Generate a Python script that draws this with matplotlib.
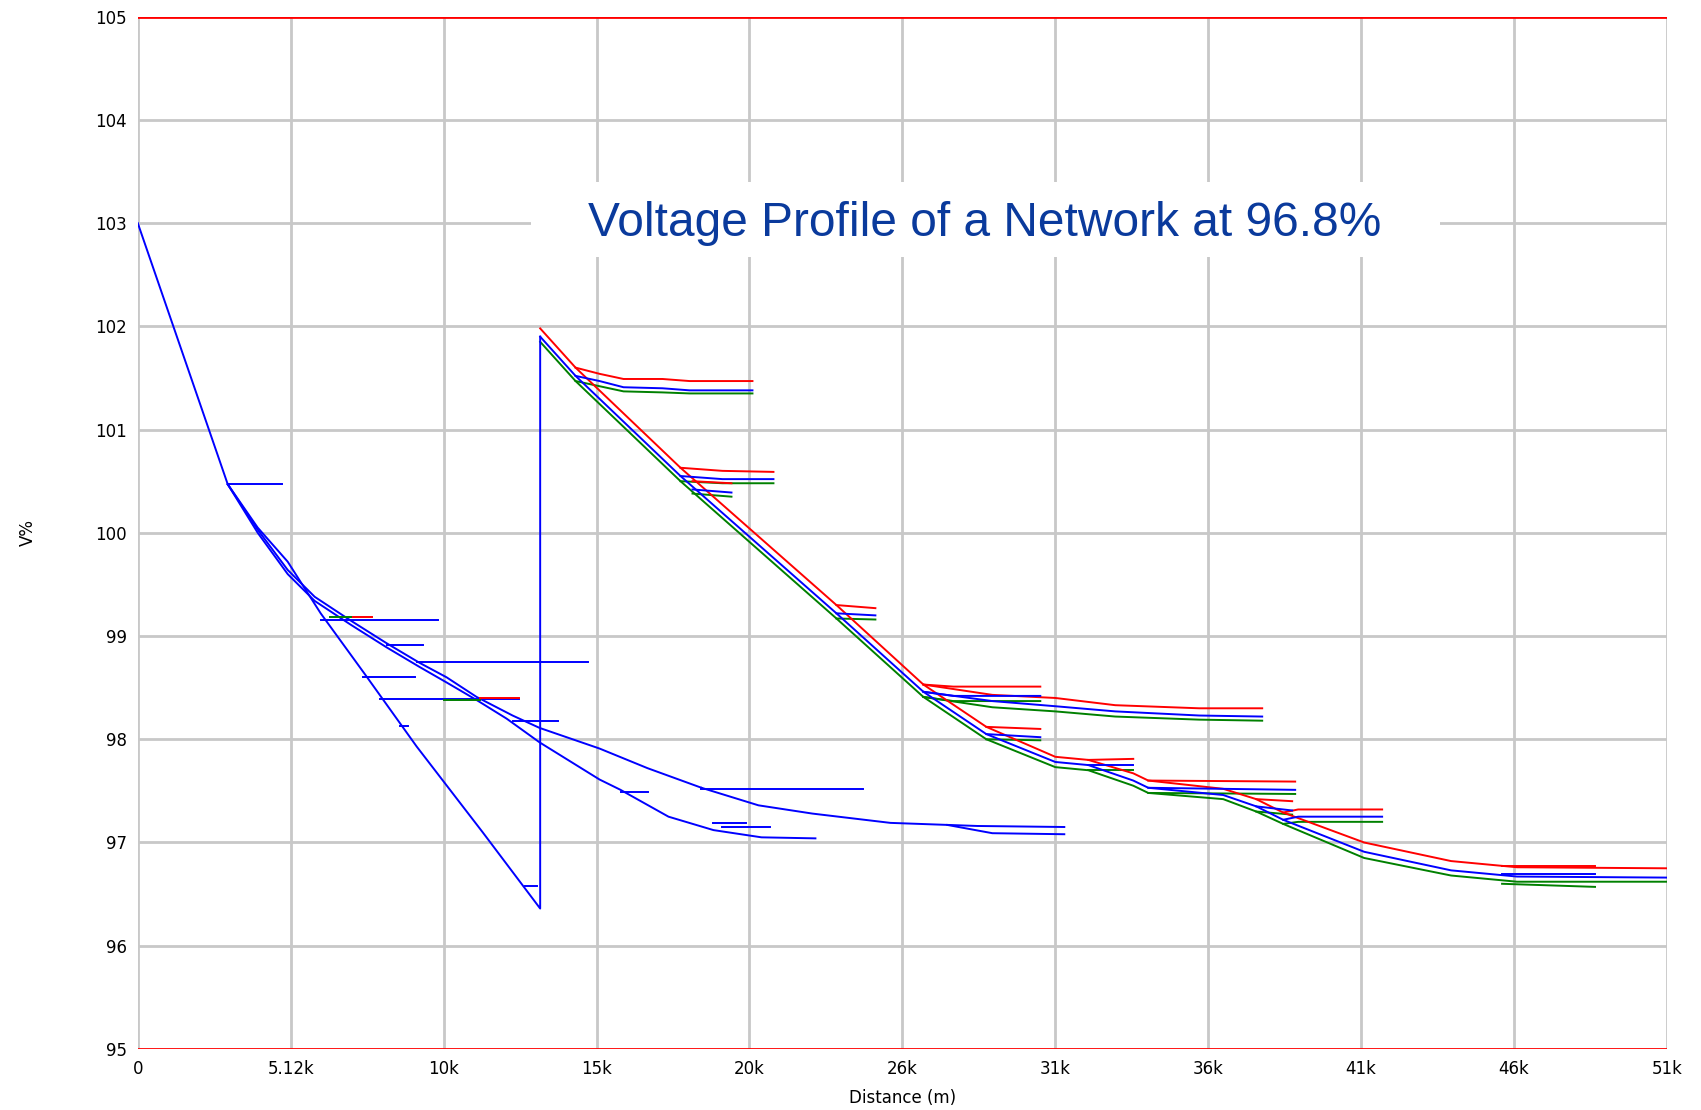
import numpy as np
import matplotlib.pyplot as plt
from matplotlib.patches import Rectangle

# ======================================
# DATOS (distancia en m, tension en %)
# ======================================

x_ticks = [0, 5100, 10200, 15300, 20400, 25500, 30600, 35700, 40800, 45900, 51000]
x_labels = ['0', '5.12k', '10k', '15k', '20k', '26k', '31k', '36k', '41k', '46k', '51k']
y_ticks = [95, 96, 97, 98, 99, 100, 101, 102, 103, 104, 105]

# --- grupo izquierdo (antes del regulador), todo en azul ---
main_x = [0, 3000]
main_v = [103.0, 100.47]

steep_x = [3000, 4000, 5000, 6100, 7600, 9300, 11500, 13420, 13420]
steep_v = [100.47, 100.05, 99.72, 99.22, 98.62, 97.93, 97.10, 96.36, 101.90]

upper_x = [3000, 4000, 5000, 5900, 7100, 8300, 9400, 10300, 11300, 12500, 13400, 15400, 17000, 18800]
upper_v = [100.47, 100.03, 99.64, 99.38, 99.15, 98.93, 98.74, 98.60, 98.41, 98.23, 98.11, 97.91, 97.72, 97.53]

lower_x = [3000, 4000, 5000, 5900, 7100, 8300, 9400, 10300, 11300, 12300, 13400, 15400, 16100, 17700, 19200, 20800, 22600]
lower_v = [100.47, 100.0, 99.60, 99.34, 99.11, 98.89, 98.70, 98.55, 98.38, 98.20, 97.97, 97.61, 97.51, 97.25, 97.12, 97.05, 97.04]

long_x = [18800, 20700, 22500, 25100, 28000, 30900]
long_v = [97.53, 97.36, 97.28, 97.19, 97.16, 97.15]
long2_x = [27000, 28500, 30900]
long2_v = [97.17, 97.09, 97.08]

# ramales horizontales cortos (x inicio, x fin, V)
stub_x0 = [3000, 18800, 6100, 8300, 9300, 7500, 8070, 12500, 8750, 16100, 19200, 19500, 12900]
stub_x1 = [4800, 24200, 10000, 9500, 15000, 9260, 12700, 14000, 9000, 17000, 20300, 21100, 13300]
stub_v = [100.47, 97.52, 99.16, 98.91, 98.75, 98.60, 98.39, 98.18, 98.13, 97.49, 97.19, 97.15, 96.58]

# trozos rojos / verdes visibles en el grupo izquierdo
left_red_x0 = [7100, 11400]
left_red_x1 = [7800, 12700]
left_red_v = [99.18, 98.40]
left_green_x0 = [6400, 10200]
left_green_x1 = [7100, 11400]
left_green_v = [99.18, 98.38]

# --- grupo derecho (despues del regulador), tres fases ---
trunk_x = [13420, 14600, 18100, 23300, 26200, 28300, 30600, 31700, 33200, 33700, 36200, 37300, 38200, 40900, 43800, 46000, 51000]
trunk_r = [101.98, 101.60, 100.63, 99.30, 98.53, 98.12, 97.83, 97.80, 97.67, 97.60, 97.52, 97.42, 97.29, 97.00, 96.82, 96.76, 96.75]
trunk_b = [101.90, 101.52, 100.55, 99.22, 98.46, 98.05, 97.78, 97.75, 97.60, 97.53, 97.46, 97.35, 97.22, 96.91, 96.73, 96.67, 96.66]
trunk_g = [101.85, 101.47, 100.50, 99.17, 98.41, 98.00, 97.73, 97.70, 97.55, 97.48, 97.42, 97.30, 97.18, 96.85, 96.68, 96.62, 96.62]

br1_x = [14600, 15400, 16200, 17500, 18400, 20500]
br1_r = [101.60, 101.54, 101.49, 101.49, 101.47, 101.47]
br1_b = [101.52, 101.47, 101.41, 101.40, 101.38, 101.38]
br1_g = [101.47, 101.42, 101.37, 101.36, 101.35, 101.35]

br2_x = [18100, 19500, 21200]
br2_r = [100.63, 100.60, 100.59]
br2_b = [100.55, 100.52, 100.52]
br2_g = [100.50, 100.48, 100.48]

br3_x = [18500, 19800]
br3_r = [100.50, 100.48]
br3_b = [100.42, 100.39]
br3_g = [100.38, 100.35]

br4_x = [23300, 24600]
br4_r = [99.30, 99.27]
br4_b = [99.22, 99.20]
br4_g = [99.17, 99.16]

br5_x = [26200, 27200, 30100]
br5_r = [98.53, 98.51, 98.51]
br5_b = [98.46, 98.42, 98.42]
br5_g = [98.41, 98.37, 98.37]

br6_x = [26200, 28500, 30600, 32600, 35400, 37500]
br6_r = [98.53, 98.43, 98.40, 98.33, 98.30, 98.30]
br6_b = [98.46, 98.37, 98.32, 98.27, 98.23, 98.22]
br6_g = [98.41, 98.31, 98.27, 98.22, 98.19, 98.18]

br7_x = [28300, 30100]
br7_r = [98.12, 98.10]
br7_b = [98.05, 98.02]
br7_g = [98.00, 97.99]

br8_x = [31700, 33200]
br8_r = [97.80, 97.81]
br8_b = [97.75, 97.75]
br8_g = [97.70, 97.70]

br9_x = [33700, 38600]
br9_r = [97.60, 97.59]
br9_b = [97.53, 97.51]
br9_g = [97.48, 97.47]

br10_x = [37300, 38500]
br10_r = [97.42, 97.40]
br10_b = [97.35, 97.31]
br10_g = [97.30, 97.27]

br11_x = [38200, 38700, 41500]
br11_r = [97.29, 97.32, 97.32]
br11_b = [97.22, 97.25, 97.25]
br11_g = [97.18, 97.20, 97.20]

br12_x = [45500, 48600]
br12_r = [96.77, 96.77]
br12_b = [96.69, 96.69]
br12_g = [96.60, 96.57]

# ======================================
# GRAFICO
# ======================================

RED = '#ff0000'
BLUE = '#0000ff'
GREEN = '#008000'
LW = 1.4

fig = plt.figure(figsize=(17.01, 11.10), dpi=100)
ax = fig.add_axes([0.081, 0.055, 0.899, 0.930])

# rejilla
for xt in x_ticks:
    ax.axvline(xt, color='#c8c8c8', lw=2.0, zorder=0)
for yt in y_ticks[1:-1]:
    ax.axhline(yt, color='#c8c8c8', lw=2.0, zorder=0)

# grupo derecho: verde, azul, rojo
branches = [
    (trunk_x, trunk_r, trunk_b, trunk_g),
    (br1_x, br1_r, br1_b, br1_g),
    (br2_x, br2_r, br2_b, br2_g),
    (br3_x, br3_r, br3_b, br3_g),
    (br4_x, br4_r, br4_b, br4_g),
    (br5_x, br5_r, br5_b, br5_g),
    (br6_x, br6_r, br6_b, br6_g),
    (br7_x, br7_r, br7_b, br7_g),
    (br8_x, br8_r, br8_b, br8_g),
    (br9_x, br9_r, br9_b, br9_g),
    (br10_x, br10_r, br10_b, br10_g),
    (br11_x, br11_r, br11_b, br11_g),
    (br12_x, br12_r, br12_b, br12_g),
]
for bx, vr, vb, vg in branches:
    ax.plot(bx, vg, color=GREEN, lw=LW, zorder=2)
    ax.plot(bx, vr, color=RED, lw=LW, zorder=3)
    ax.plot(bx, vb, color=BLUE, lw=LW, zorder=4)

# grupo izquierdo
for x0, x1, v in zip(left_red_x0, left_red_x1, left_red_v):
    ax.plot([x0, x1], [v, v], color=RED, lw=LW, zorder=5)
for x0, x1, v in zip(left_green_x0, left_green_x1, left_green_v):
    ax.plot([x0, x1], [v, v], color=GREEN, lw=LW, zorder=5)

ax.plot(main_x, main_v, color=BLUE, lw=LW, zorder=4)
ax.plot(steep_x, steep_v, color=BLUE, lw=LW, zorder=4)
ax.plot(upper_x, upper_v, color=BLUE, lw=LW, zorder=4)
ax.plot(lower_x, lower_v, color=BLUE, lw=LW, zorder=4)
ax.plot(long_x, long_v, color=BLUE, lw=LW, zorder=4)
ax.plot(long2_x, long2_v, color=BLUE, lw=LW, zorder=4)
for x0, x1, v in zip(stub_x0, stub_x1, stub_v):
    ax.plot([x0, x1], [v, v], color=BLUE, lw=LW, zorder=4)

# limites de tension
ax.axhline(105, color=RED, lw=2.0, zorder=6)
ax.axhline(95, color=RED, lw=2.0, zorder=6)

ax.set_xlim(0, 51000)
ax.set_ylim(95, 105)
ax.set_xticks(x_ticks)
ax.set_xticklabels(x_labels)
ax.set_yticks(y_ticks)
ax.tick_params(length=0, labelsize=12, pad=8)
for s in ax.spines.values():
    s.set_visible(False)

ax.set_xlabel('Distance (m)', fontsize=12, labelpad=8)
ax.set_ylabel('V%', fontsize=12, labelpad=42)

# cuadro blanco del titulo
ax.add_patch(Rectangle((13130, 102.67), 30310, 0.73, facecolor='white',
                       edgecolor='none', zorder=7))
ax.text(28250, 103.0, 'Voltage Profile of a Network at 96.8%', fontsize=34.5,
        family='Liberation Sans', color='#0a3a9c', ha='center', va='center',
        zorder=8)

plt.savefig('out.png', dpi=100)
